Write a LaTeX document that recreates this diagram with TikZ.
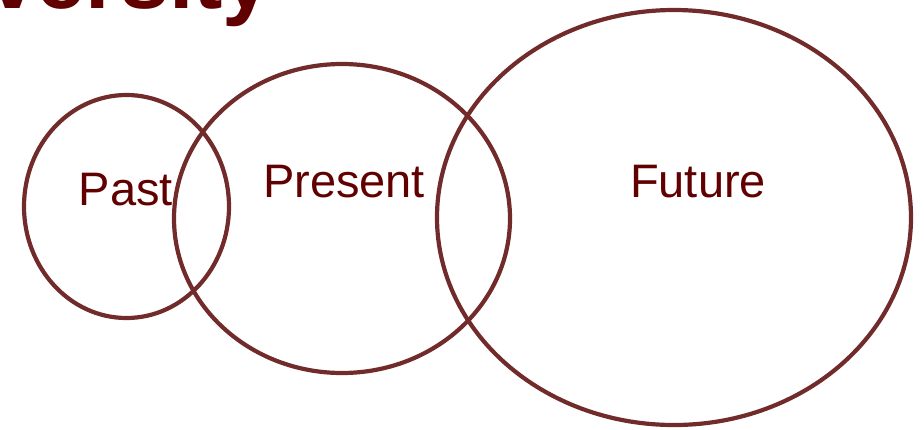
\documentclass[tikz,border=0pt]{standalone}
\usepackage{fontspec}
\setmainfont{Liberation Sans}
\definecolor{ringred}{RGB}{114,43,43}
\definecolor{textred}{RGB}{96,0,0}

\begin{document}
\begin{tikzpicture}[x=1pt,y=-1pt,
    ring/.style={draw=ringred, line width=4.2pt},
    timelabel/.style={text=textred, inner sep=0pt, anchor=base,
        font=\fontsize{47}{56}\selectfont}]

    \useasboundingbox (0,0) rectangle (924,429);
    \clip (0,0) rectangle (924,429);

    % Title, cut off at the top
    \node[anchor=base east, inner sep=0pt, text=textred,
        font=\fontsize{88}{100}\selectfont\bfseries] (title) at (272,8) {versity};

    % Circles
    \draw[ring] (126.5,206.5) ellipse [x radius=102.5pt, y radius=111.5pt];
    \draw[ring] (342,218.5) ellipse [x radius=168pt, y radius=154.5pt];
    \draw[ring] (674,217.5) ellipse [x radius=237pt, y radius=207.5pt];

    % Labels
    \node[timelabel] (past) at (126,205) {Past};
    \node[timelabel] (present) at (344,197) {Present};
    \node[timelabel] (future) at (698,197) {Future};

\end{tikzpicture}
\end{document}
